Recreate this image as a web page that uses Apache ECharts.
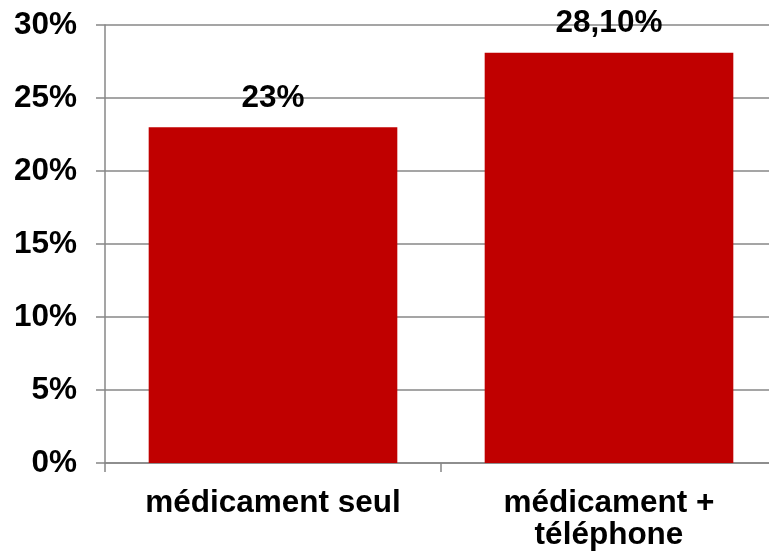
<!DOCTYPE html>
<html>
<head>
<meta charset="utf-8">
<script src="https://cdn.jsdelivr.net/npm/echarts@6/dist/echarts.min.js"></script>
<style>
  html, body { margin: 0; padding: 0; background: #ffffff; }
  #chart { width: 769px; height: 552px; }
</style>
</head>
<body>
<div id="chart"></div>
<script>
// Categories and values (percent)
const categories = ['médicament seul', 'médicament +\ntéléphone'];
const values = [23, 28.1];
const valueLabels = ['23%', '28,10%'];
const yTicks = { min: 0, max: 30, interval: 5 };

const FONT = '"Liberation Sans", Arial, sans-serif';
const GRID_COLOR = '#878787';
const LINE_WIDTH = 1.5;
const FONT_SIZE = 31.5;

const chart = echarts.init(document.getElementById('chart'), null, { renderer: 'canvas' });

chart.setOption({
  animation: false,
  backgroundColor: '#ffffff',
  grid: { left: 105, top: 25, right: -8, bottom: 89, containLabel: false, outerBoundsMode: 'none' },
  xAxis: {
    type: 'category',
    data: categories,
    axisLine: { show: true, lineStyle: { color: GRID_COLOR, width: LINE_WIDTH } },
    axisTick: { show: true, length: 9, lineStyle: { color: GRID_COLOR, width: LINE_WIDTH } },
    axisLabel: {
      margin: 24,
      color: '#000000',
      fontFamily: FONT,
      fontWeight: 'bold',
      fontSize: FONT_SIZE,
      lineHeight: 32
    }
  },
  yAxis: {
    type: 'value',
    min: yTicks.min,
    max: yTicks.max,
    interval: yTicks.interval,
    axisLine: { show: true, lineStyle: { color: GRID_COLOR, width: LINE_WIDTH } },
    axisTick: { show: true, length: 9, lineStyle: { color: GRID_COLOR, width: LINE_WIDTH } },
    splitLine: { show: true, lineStyle: { color: GRID_COLOR, width: LINE_WIDTH } },
    axisLabel: {
      margin: 28,
      color: '#000000',
      fontFamily: FONT,
      fontWeight: 'bold',
      fontSize: FONT_SIZE,
      formatter: v => v + '%'
    }
  },
  series: [{
    type: 'bar',
    data: values,
    barCategoryGap: '26%',
    itemStyle: { color: '#C00000' },
    label: {
      show: true,
      position: 'top',
      distance: 13,
      color: '#000000',
      fontFamily: FONT,
      fontWeight: 'bold',
      fontSize: FONT_SIZE,
      formatter: p => valueLabels[p.dataIndex]
    }
  }]
});
</script>
</body>
</html>
